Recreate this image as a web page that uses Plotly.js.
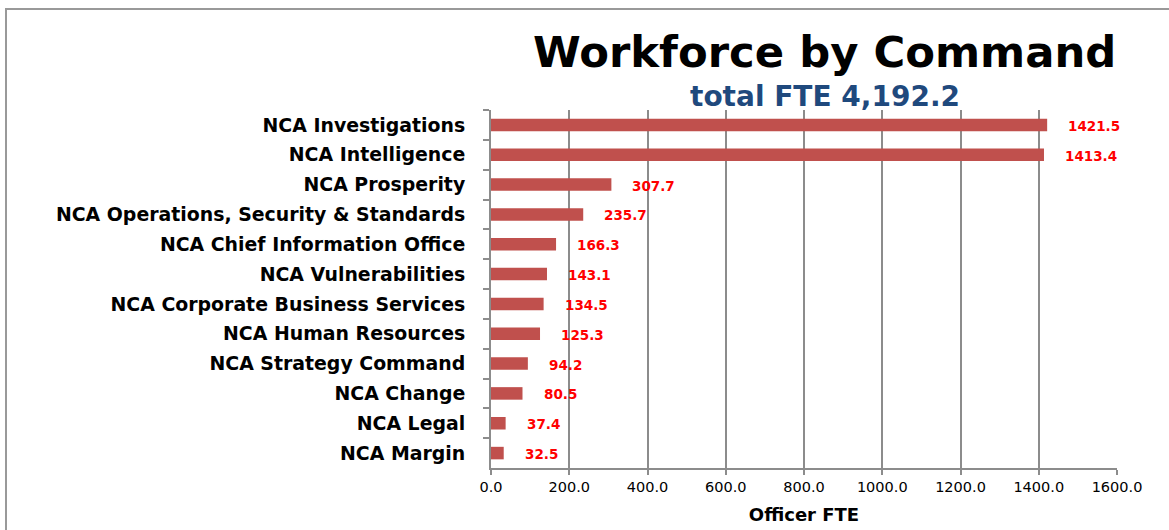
<!DOCTYPE html>
<html>
<head>
<meta charset="utf-8">
<script src="https://cdn.plot.ly/plotly-3.0.1.min.js"></script>
<style>
  html, body { margin: 0; padding: 0; background: #fff; overflow: hidden; }
  #chart { width: 1169px; height: 530px; }
  #frame { position: absolute; left: 5px; top: 8px; width: 1300px; height: 600px;
           border-left: 2px solid #999; border-top: 2px solid #999; pointer-events: none; }
</style>
</head>
<body>
<div id="chart"></div>
<div id="frame"></div>
<script>
const commands = [
  'NCA Investigations', 'NCA Intelligence', 'NCA Prosperity',
  'NCA Operations, Security & Standards', 'NCA Chief Information Office',
  'NCA Vulnerabilities', 'NCA Corporate Business Services', 'NCA Human Resources',
  'NCA Strategy Command', 'NCA Change', 'NCA Legal', 'NCA Margin'
];
const fte = [1421.5, 1413.4, 307.7, 235.7, 166.3, 143.1, 134.5, 125.3, 94.2, 80.5, 37.4, 32.5];
const tickVals = [0, 200, 400, 600, 800, 1000, 1200, 1400, 1600];
const tickText = tickVals.map(v => v.toFixed(1));

const labels = commands.map((c, i) => ({
  x: fte[i], y: c, text: fte[i].toFixed(1),
  xanchor: 'left', xshift: 19, yshift: -1, showarrow: false,
  font: { family: 'DejaVu Sans', size: 13.5, color: '#ff0000', weight: 'bold' }
}));

Plotly.newPlot('chart', [{
  type: 'bar',
  orientation: 'h',
  x: fte,
  y: commands,
  marker: { color: '#C0504D' },
  hoverinfo: 'none'
}], {
  width: 1169, height: 530,
  margin: { l: 491, r: 52, t: 110, b: 62 },
  paper_bgcolor: '#fff', plot_bgcolor: '#fff',
  bargap: 0.58,
  showlegend: false,
  font: { family: 'DejaVu Sans', color: '#000' },
  xaxis: {
    range: [0, 1600], tickvals: tickVals, ticktext: tickText,
    showgrid: true, gridcolor: '#8c8c8c', gridwidth: 2,
    showline: true, linecolor: '#8c8c8c', linewidth: 2,
    ticks: 'outside', ticklen: 5, tickcolor: '#8c8c8c', tickwidth: 2,
    tickfont: { family: 'DejaVu Sans', size: 14.5, color: '#000' },
    zeroline: false, fixedrange: true,
    title: { text: 'Officer FTE', standoff: 14,
             font: { family: 'DejaVu Sans', size: 18, color: '#000', weight: 'bold' } }
  },
  yaxis: {
    autorange: 'reversed', type: 'category',
    showline: true, linecolor: '#8c8c8c', linewidth: 2,
    ticks: 'outside', tickson: 'boundaries', ticklen: 6, tickcolor: '#8c8c8c', tickwidth: 2,
    tickfont: { family: 'DejaVu Sans', size: 18.9, color: '#000', weight: 'bold' },
    ticklabelstandoff: 20,
    showgrid: false, fixedrange: true
  },
  annotations: labels.concat([
    { xref: 'paper', yref: 'paper', x: 0.5335, y: 1, yshift: 58, xanchor: 'center', yanchor: 'middle',
      text: 'Workforce by Command', showarrow: false,
      font: { family: 'DejaVu Sans', size: 43.3, color: '#000', weight: 'bold' } },
    { xref: 'paper', yref: 'paper', x: 0.5335, y: 1, yshift: 14, xanchor: 'center', yanchor: 'middle',
      text: 'total FTE 4,192.2', showarrow: false,
      font: { family: 'DejaVu Sans', size: 28, color: '#1F497D', weight: 'bold' } }
  ])
}, { displayModeBar: false, staticPlot: true });
</script>
</body>
</html>
